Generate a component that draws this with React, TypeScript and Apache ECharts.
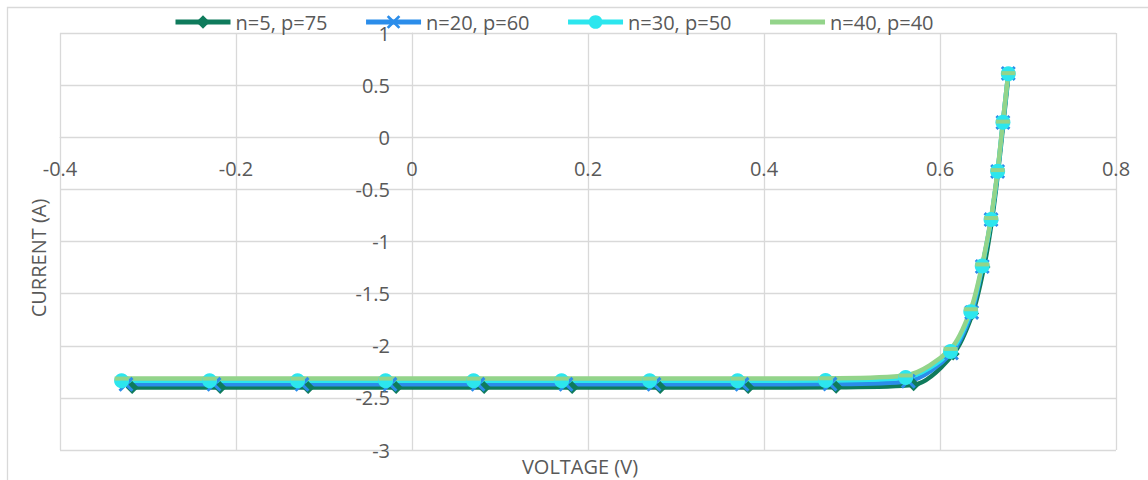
import React, { useEffect, useRef } from "react";
import * as echarts from "echarts";

// Diode I–V sweeps for four (n, p) cell configurations
const seriesNames = ["n=5, p=75", "n=20, p=60", "n=30, p=50", "n=40, p=40"];
const seriesColors = ["#0f7b5c", "#2b8dea", "#2ce6ee", "#93d48a"];

const voltageN5 = [-0.318, -0.218, -0.118, -0.018, 0.082, 0.182, 0.282, 0.382, 0.482, 0.57, 0.615, 0.637, 0.65, 0.659, 0.666, 0.672, 0.678];
const currentN5 = [-2.4, -2.4, -2.4, -2.4, -2.4, -2.4, -2.4, -2.4, -2.398, -2.375, -2.08, -1.69, -1.245, -0.795, -0.33, 0.14, 0.61];

const voltageN20 = [-0.325, -0.225, -0.125, -0.025, 0.075, 0.175, 0.275, 0.375, 0.475, 0.564, 0.613, 0.636, 0.648, 0.658, 0.6655, 0.6715, 0.6776];
const currentN20 = [-2.37, -2.37, -2.37, -2.37, -2.37, -2.37, -2.37, -2.37, -2.368, -2.34, -2.07, -1.68, -1.24, -0.79, -0.328, 0.142, 0.612];

const voltageN30 = [-0.33, -0.23, -0.13, -0.03, 0.07, 0.17, 0.27, 0.37, 0.47, 0.561, 0.612, 0.635, 0.648, 0.658, 0.6655, 0.6715, 0.6776];
const currentN30 = [-2.335, -2.335, -2.335, -2.335, -2.335, -2.335, -2.335, -2.335, -2.333, -2.305, -2.056, -1.673, -1.236, -0.788, -0.326, 0.144, 0.61];

const voltageN40 = [-0.33, -0.23, -0.13, -0.03, 0.07, 0.17, 0.27, 0.37, 0.47, 0.561, 0.612, 0.635, 0.648, 0.658, 0.6655, 0.6715, 0.6776];
const currentN40 = [-2.315, -2.315, -2.315, -2.315, -2.315, -2.315, -2.315, -2.315, -2.312, -2.285, -2.03, -1.65, -1.22, -0.775, -0.315, 0.15, 0.615];

const voltageTicks = [-0.4, -0.2, 0, 0.2, 0.4, 0.6, 0.8];
const currentTicks = [-3, -2.5, -2, -1.5, -1, -0.5, 0, 0.5, 1];

const FONT = "'Open Sans', 'Noto Sans', sans-serif";
const TEXT = "#595959";
const GRID = "#d9d9d9";

const WIDTH = 1148;
const HEIGHT = 480;
const GRID_LEFT = 60;
const GRID_RIGHT = 32;
const GRID_TOP = 33;
const GRID_BOTTOM = 30;

const crossPath =
  "path://M1.4,0 L5,3.6 L8.6,0 L10,1.4 L6.4,5 L10,8.6 L8.6,10 L5,6.4 L1.4,10 L0,8.6 L3.6,5 L0,1.4 Z";

function pairs(xs: number[], ys: number[]) {
  return xs.map((x, i) => [x, ys[i]]);
}

export default function App() {
  const ref = useRef<HTMLDivElement>(null);

  useEffect(() => {
    if (!ref.current) return;
    const chart = echarts.init(ref.current, null, { renderer: "svg" });

    const xMin = voltageTicks[0];
    const xMax = voltageTicks[voltageTicks.length - 1];
    const yMin = currentTicks[0];
    const yMax = currentTicks[currentTicks.length - 1];
    const plotW = WIDTH - GRID_LEFT - GRID_RIGHT;
    const plotH = HEIGHT - GRID_TOP - GRID_BOTTOM;
    // the axes cross at the origin: shift each from its grid edge to zero
    const xAxisShift = -plotH * ((0 - yMin) / (yMax - yMin));
    const yAxisShift = -plotW * ((0 - xMin) / (xMax - xMin));

    const common = {
      type: "line" as const,
      smooth: 0.3,
      lineStyle: { width: 4.5 },
      emphasis: { disabled: true },
    };

    chart.setOption({
      animation: false,
      textStyle: { fontFamily: FONT },
      grid: { left: GRID_LEFT, top: GRID_TOP, right: GRID_RIGHT, bottom: GRID_BOTTOM, containLabel: false },
      legend: {
        left: 168,
        top: 5,
        itemWidth: 55,
        itemHeight: 17,
        itemGap: 36,
        lineStyle: { width: 5 },
        data: [
          { name: seriesNames[0] },
          { name: seriesNames[1] },
          { name: seriesNames[2] },
          { name: seriesNames[3], itemStyle: { opacity: 0 } },
        ],
        textStyle: { fontFamily: FONT, fontSize: 20, color: TEXT, lineHeight: 24 },
      },
      xAxis: {
        type: "value",
        position: "bottom",
        offset: xAxisShift,
        min: xMin,
        max: xMax,
        interval: 0.2,
        axisLine: { show: true, onZero: false, lineStyle: { color: GRID, width: 1 } },
        axisTick: { show: false },
        axisLabel: { fontFamily: FONT, fontSize: 20, color: TEXT, margin: 21 },
        splitLine: { show: true, lineStyle: { color: GRID, width: 1.3 } },
      },
      yAxis: {
        type: "value",
        position: "left",
        offset: yAxisShift,
        min: yMin,
        max: yMax,
        interval: 0.5,
        axisLine: { show: true, onZero: false, lineStyle: { color: GRID, width: 1 } },
        axisTick: { show: false },
        axisLabel: { fontFamily: FONT, fontSize: 20, color: TEXT, margin: 22 },
        splitLine: { show: true, lineStyle: { color: GRID, width: 1.3 } },
      },
      graphic: [
        {
          type: "rect",
          shape: { x: 7.5, y: 7.5, width: 1300, height: 600 },
          style: { fill: "none", stroke: GRID, lineWidth: 1.3 },
          silent: true,
          z: -1,
        },
        {
          type: "text",
          x: 38,
          y: 258,
          rotation: Math.PI / 2,
          style: {
            text: "CURRENT (A)",
            fontFamily: FONT,
            fontSize: 20,
            fill: TEXT,
            align: "center",
            verticalAlign: "middle",
          },
        },
        {
          type: "text",
          x: 580,
          y: 466,
          style: {
            text: "VOLTAGE (V)",
            fontFamily: FONT,
            fontSize: 20,
            fill: TEXT,
            align: "center",
            verticalAlign: "middle",
          },
        },
      ],
      series: [
        {
          ...common,
          name: seriesNames[0],
          data: pairs(voltageN5, currentN5),
          color: seriesColors[0],
          symbol: "diamond",
          symbolSize: 13,
        },
        {
          ...common,
          name: seriesNames[1],
          data: pairs(voltageN20, currentN20),
          color: seriesColors[1],
          symbol: crossPath,
          symbolSize: 15,
        },
        {
          ...common,
          name: seriesNames[2],
          data: pairs(voltageN30, currentN30),
          color: seriesColors[2],
          symbol: "circle",
          symbolSize: 15,
        },
        {
          ...common,
          name: seriesNames[3],
          data: pairs(voltageN40, currentN40),
          color: seriesColors[3],
          symbol: "rect",
          symbolSize: [14, 4],
        },
      ],
    });

    return () => chart.dispose();
  }, []);

  return (
    <div
      ref={ref}
      style={{ position: "absolute", left: 0, top: 0, width: WIDTH, height: HEIGHT, background: "#ffffff" }}
    />
  );
}
